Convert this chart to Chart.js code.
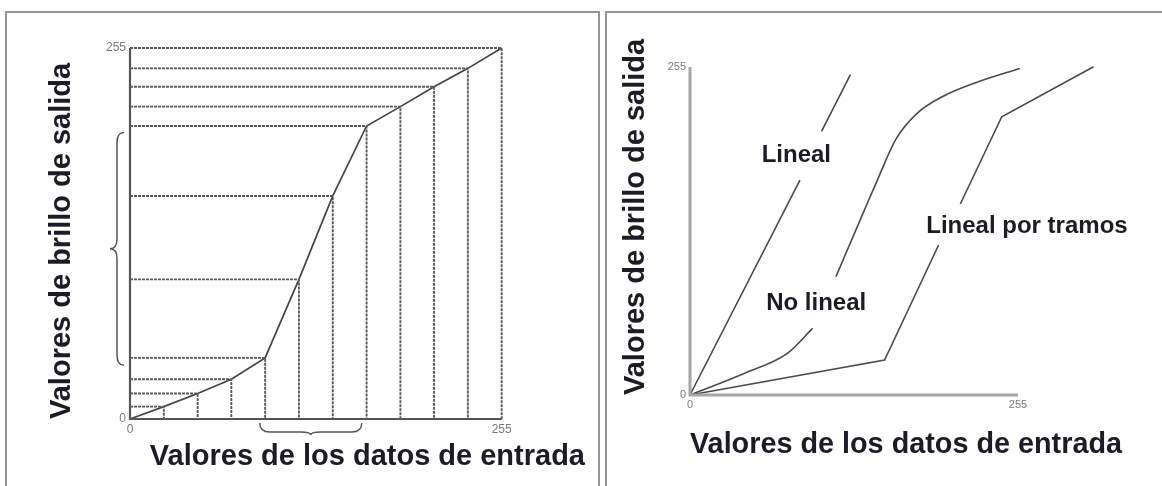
<!DOCTYPE html>
<html lang="es">
<head>
<meta charset="utf-8">
<title>Transformaciones de brillo</title>
<script src="https://cdn.jsdelivr.net/npm/chart.js@4.4.1/dist/chart.umd.min.js"></script>
<style>
  html, body { margin: 0; padding: 0; background: #fff; }
  body { position: relative; width: 1162px; height: 486px; overflow: hidden; }
  .frame { position: absolute; top: 11px; height: 520px; border: 2px solid #959595; box-sizing: border-box; }
  #frame-left { left: 5px; width: 595px; }
  #frame-right { left: 605px; width: 600px; }
  canvas { position: absolute; top: 0; }
  #stretch-chart { left: 0; }
  #curves-chart { left: 600px; }
</style>
</head>
<body>
<div class="frame" id="frame-left"></div>
<div class="frame" id="frame-right"></div>
<canvas id="stretch-chart" width="600" height="486"></canvas>
<canvas id="curves-chart" width="562" height="486"></canvas>

<script>
// ─── Data: left panel (piecewise stretch) ───
const inputLevels  = [0, 23.2, 46.4, 69.5, 92.7, 115.9, 139.1, 162.3, 185.5, 208.6, 231.8, 255];
const outputLevels = [0, 8.5, 17.5, 27.3, 42, 96, 153.3, 201.4, 214.7, 228.4, 241, 255];
const stretchedOut = [37, 197];   // brace along the output axis
const stretchedIn  = [89, 159];   // brace along the input axis

// ─── Data: right panel (three transfer curves) ───
const linealX    = [0, 85.5, 94, 102.3, 124.7];
const linealY    = [0, 167, null, 205, 249];
const noLinealX  = [0, 42, 75.7, 95.3, 104, 113.5, 134.5, 145.7, 159.7, 176.5, 196.1, 224.2, 256.4];
const noLinealY  = [0, 16.8, 32.4, 51.8, null, 92, 141.2, 167.1, 198.2, 218.9, 231.9, 243.6, 253.9];
const tramosX    = [0, 151.3, 193.3, 201, 210.2, 242.4, 313.8];
const tramosY    = [0, 27.2, 116.6, null, 148.5, 216.3, 255.2];
const curveNames = ['Lineal', 'No lineal', 'Lineal por tramos'];
const nameX      = [82.7, 98.1, 262];
const nameY      = [186.6, 71.3, 130.8];

const axisTicks = [0, 255];

// ─── Defaults ───
Chart.defaults.font.family = "'Liberation Sans', Arial, sans-serif";
Chart.defaults.animation = false;
Chart.defaults.events = [];

const TITLE_COLOR = '#1c1c26';
const toPoints = (xs, ys) => xs.map((x, i) => ({ x, y: ys[i] }));

function lineSet(data, color, width, dash = []) {
  return {
    data,
    showLine: true,
    borderColor: color,
    borderWidth: width,
    borderDash: dash,
    pointRadius: 0,
    clip: false,
  };
}

function scalesFor(o) {
  return {
    x: {
      type: 'linear', min: 0, max: o.xMax,
      afterBuildTicks: s => { s.ticks = axisTicks.map(v => ({ value: v })); },
      afterFit: s => { s.height = o.xHeight; },
      grid: { display: false, drawTicks: false },
      border: { display: false },
      ticks: { color: '#7a7a7a', font: { size: o.tickSize }, padding: 3, maxRotation: 0, autoSkip: false },
      title: {
        display: true, text: 'Valores de los datos de entrada', align: o.xAlign,
        color: TITLE_COLOR, font: { size: 29, weight: 'bold' },
        padding: { top: 0, bottom: o.xTitlePad },
      },
    },
    y: {
      type: 'linear', min: 0, max: 255,
      afterBuildTicks: s => { s.ticks = axisTicks.map(v => ({ value: v })); },
      afterFit: s => { s.width = o.yWidth; },
      grid: { display: false, drawTicks: false },
      border: { display: false },
      ticks: { color: '#7a7a7a', font: { size: o.tickSize }, padding: 4, autoSkip: false },
      title: {
        display: true, text: 'Valores de brillo de salida', align: 'start',
        color: TITLE_COLOR, font: { size: 29, weight: 'bold' },
        padding: { top: o.yTitlePad, bottom: 0 },
      },
    },
  };
}

// curly brace along an axis; t runs along the span, o points away from the plot
function brace(ctx, map, a, b, h, tip) {
  const r = Math.min(10, (b - a) / 6);
  const m = (a + b) / 2;
  ctx.beginPath();
  ctx.moveTo(...map(a, 0));
  ctx.quadraticCurveTo(...map(a, h), ...map(a + r, h));
  ctx.lineTo(...map(m - r, h));
  ctx.quadraticCurveTo(...map(m, h), ...map(m, h + tip));
  ctx.quadraticCurveTo(...map(m, h), ...map(m + r, h));
  ctx.lineTo(...map(b - r, h));
  ctx.quadraticCurveTo(...map(b, h), ...map(b, 0));
  ctx.stroke();
}

const bracePlugin = {
  id: 'braces',
  afterDatasetsDraw(chart) {
    const { ctx, scales: { x, y } } = chart;
    const x0 = x.getPixelForValue(0);
    const y0 = y.getPixelForValue(0);
    ctx.save();
    ctx.strokeStyle = '#555';
    ctx.lineWidth = 1.5;
    // left brace (output range)
    const top = y.getPixelForValue(stretchedOut[1]);
    const bot = y.getPixelForValue(stretchedOut[0]);
    brace(ctx, (t, o) => [x0 - 6 - o, t], top, bot, 7, 7);
    // bottom brace (input range)
    const l = x.getPixelForValue(stretchedIn[0]);
    const r = x.getPixelForValue(stretchedIn[1]);
    brace(ctx, (t, o) => [t, y0 + 4 + o], l, r, 9, 3);
    ctx.restore();
  },
};

const curveLabels = {
  id: 'curveLabels',
  afterDatasetsDraw(chart) {
    const { ctx, scales: { x, y } } = chart;
    ctx.save();
    ctx.font = "bold 24px 'Liberation Sans', Arial, sans-serif";
    ctx.fillStyle = TITLE_COLOR;
    ctx.textAlign = 'center';
    ctx.textBaseline = 'middle';
    curveNames.forEach((t, i) => {
      ctx.fillText(t, x.getPixelForValue(nameX[i]), y.getPixelForValue(nameY[i]));
    });
    ctx.restore();
  },
};

// ─── Left: stretch with guide lines ───
const guidePts = [];
inputLevels.forEach((xv, i) => {
  if (i === 0) return;
  const yv = outputLevels[i];
  guidePts.push({ x: 0, y: yv }, { x: xv, y: yv }, { x: xv, y: 0 }, { x: xv, y: null });
});

new Chart(document.getElementById('stretch-chart'), {
  type: 'scatter',
  data: {
    datasets: [
      lineSet(guidePts, '#595959', 1.9, [3, 1]),
      lineSet([{ x: 0, y: 255 }, { x: 0, y: 0 }, { x: 255, y: 0 }], '#555', 2.2),
      lineSet(toPoints(inputLevels, outputLevels), '#444', 1.7),
    ],
  },
  options: {
    responsive: false,
    layout: { padding: { left: 0, right: 15, top: 48, bottom: 0 } },
    plugins: { legend: { display: false }, tooltip: { enabled: false } },
    scales: scalesFor({ xMax: 312.15, xHeight: 67, yWidth: 130, xTitlePad: 11.6, yTitlePad: 44.6, xAlign: 'end', tickSize: 12 }),
  },
  plugins: [bracePlugin],
});

// ─── Right: lineal / no lineal / por tramos ───
new Chart(document.getElementById('curves-chart'), {
  type: 'scatter',
  data: {
    datasets: [
      lineSet([{ x: 0, y: 255 }, { x: 0, y: 0 }, { x: 255, y: 0 }], '#a6a6a6', 3),
      lineSet(toPoints(linealX, linealY), '#4a4a4a', 1.6),
      { ...lineSet(toPoints(noLinealX, noLinealY), '#4a4a4a', 1.6), cubicInterpolationMode: 'monotone' },
      lineSet(toPoints(tramosX, tramosY), '#4a4a4a', 1.6),
    ],
  },
  options: {
    responsive: false,
    layout: { padding: { left: 0, right: 40, top: 67, bottom: 0 } },
    plugins: { legend: { display: false }, tooltip: { enabled: false } },
    scales: scalesFor({ xMax: 335.9, xHeight: 91, yWidth: 90, xTitlePad: 23.6, yTitlePad: 18.6, xAlign: 'center', tickSize: 11 }),
  },
  plugins: [curveLabels],
});
</script>
</body>
</html>
